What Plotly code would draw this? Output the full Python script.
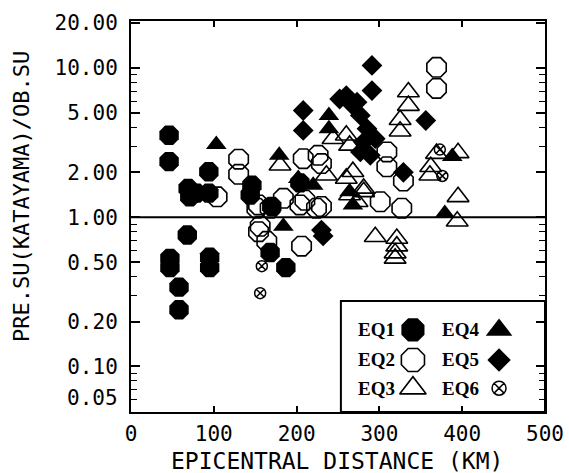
import plotly.graph_objects as go

# ---- data ----
eq1_x = [46, 46, 94, 69, 79, 71, 94, 68, 47, 47, 95, 95, 58, 58, 187, 168, 146, 144, 170, 204]
eq1_y = [3.54, 2.36, 2.02, 1.56, 1.45, 1.37, 1.45, 0.76, 0.53, 0.46, 0.54, 0.46, 0.34, 0.24, 0.46, 0.58, 1.64, 1.41, 1.18, 1.70]

eq2_x = [130, 130, 104, 152, 168, 154, 164, 206, 156, 154, 184, 210, 224, 204, 230, 208, 226, 230, 369, 369, 309, 309, 329, 301, 327]
eq2_y = [2.45, 1.94, 1.37, 1.15, 1.15, 0.80, 0.69, 0.64, 0.87, 1.21, 1.34, 1.30, 1.15, 1.21, 1.18, 2.47, 2.60, 2.29, 10.1, 7.3, 2.74, 2.18, 1.75, 1.27, 1.15]

eq3_x = [180, 244, 260, 264, 236, 260, 264, 273, 268, 281, 335, 335, 325, 325, 369, 362, 361, 395, 394, 295, 321, 321, 319, 319, 281, 395]
eq3_y = [2.23, 3.36, 3.54, 3.03, 1.91, 1.82, 1.41, 1.27, 2.02, 1.48, 6.9, 5.6, 4.5, 3.77, 2.67, 2.18, 1.91, 1.37, 0.94, 0.74, 0.72, 0.64, 0.575, 0.53, 1.56, 2.7]

eq4_x = [103, 179, 239, 239, 202, 220, 264, 268, 184, 379, 388]
eq4_y = [3.07, 2.6, 4.81, 3.92, 1.82, 1.64, 1.48, 1.21, 0.87, 1.06, 2.55]

eq5_x = [208, 208, 230, 232, 291, 291, 356, 329, 260, 268, 277, 285, 281, 277, 289, 273, 252, 295]
eq5_y = [5.19, 3.82, 0.82, 0.75, 10.4, 7.06, 4.45, 2.0, 6.54, 5.6, 4.81, 3.92, 3.2, 2.74, 2.6, 5.9, 6.2, 3.36]

eq6_x = [158, 156, 373, 376]
eq6_y = [0.47, 0.31, 2.84, 1.89]

y_tickvals = [20, 10, 5, 2, 1, 0.5, 0.2, 0.1, 0.05]
y_ticktext = ["20.00", "10.00", "5.00", "2.00", "1.00", "0.50", "0.20", "0.10", ""]
y_bottom_label = "0.05"
x_tickvals = [0, 100, 200, 300, 400, 500]

legend_names = ["EQ1", "EQ2", "EQ3", "EQ4", "EQ5", "EQ6"]

BLACK = "#000000"
series = [
    (eq1_x, eq1_y, "octagon", 21, 0),
    (eq2_x, eq2_y, "octagon-open", 21, 1.6),
    (eq3_x, eq3_y, "triangle-up-open", 19, 1.6),
    (eq4_x, eq4_y, "triangle-up", 18, 0),
    (eq5_x, eq5_y, "diamond", 16, 0),
    (eq6_x, eq6_y, "circle-x-open", 11, 1.5),
]

fig = go.Figure()
for (xs, ys, sym, sz, lw), name in zip(series, legend_names):
    fig.add_trace(go.Scatter(
        x=xs, y=ys, mode="markers", name=name, showlegend=False,
        marker=dict(symbol=sym, size=sz, color=BLACK, line=dict(color=BLACK, width=lw)),
    ))

# custom legend (two columns: label then marker)
leg_rows = [0.21, 0.133, 0.061]
leg_text_x = [0.593, 0.795]
leg_mark_x = [0.681, 0.889]
leg_sizes = [25, 25, 23, 23, 18, 14]
for i, ((xs, ys, sym, sz, lw), name) in enumerate(zip(series, legend_names)):
    col, row = divmod(i, 3)
    fig.add_trace(go.Scatter(
        x=[leg_mark_x[col]], y=[leg_rows[row]], mode="markers", showlegend=False,
        xaxis="x2", yaxis="y2",
        marker=dict(symbol=sym, size=leg_sizes[i], color=BLACK, line=dict(color=BLACK, width=lw)),
    ))
    fig.add_annotation(x=leg_text_x[col], y=leg_rows[row], xref="paper", yref="paper",
                       xanchor="center", yanchor="middle",
                       text="<b>%s</b>" % name, showarrow=False,
                       font=dict(family="Liberation Serif", size=19, color=BLACK))

mono = "DejaVu Sans Mono"
fig.update_layout(
    width=569, height=473,
    margin=dict(l=131, r=24, t=21, b=61, autoexpand=False),
    paper_bgcolor="white", plot_bgcolor="white",
    font=dict(family=mono, color=BLACK),
    xaxis=dict(range=[0, 500], tickvals=x_tickvals, ticks="inside", ticklen=6, tickwidth=1.5,
               tickcolor=BLACK, showline=True, linewidth=2, linecolor=BLACK, mirror="ticks",
               showgrid=False, zeroline=False, automargin=False, ticklabelstandoff=2,
               tickfont=dict(family=mono, size=21, color=BLACK)),
    yaxis=dict(type="log", range=[-1.305, 1.315], tickvals=y_tickvals, ticktext=y_ticktext,
               ticks="inside", ticklen=9, tickwidth=1.5, tickcolor=BLACK,
               minor=dict(ticks="inside", ticklen=6, tickwidth=1, tickcolor=BLACK, dtick="D1", showgrid=False),
               showline=True, linewidth=2, linecolor=BLACK, mirror="ticks",
               showgrid=False, zeroline=False, automargin=False, ticklabelstandoff=7,
               tickfont=dict(family=mono, size=21, color=BLACK)),
    xaxis2=dict(overlaying="x", range=[0, 1], visible=False),
    yaxis2=dict(overlaying="y", range=[0, 1], visible=False),
    shapes=[
        dict(type="line", xref="paper", yref="y", x0=0, x1=1, y0=1, y1=1,
             line=dict(color=BLACK, width=2)),
        dict(type="rect", xref="paper", yref="paper", x0=0.507, x1=1, y0=0, y1=0.284,
             line=dict(color=BLACK, width=2)),
    ],
)
fig.add_annotation(x=-0.027, y=0.036, xref="paper", yref="paper", showarrow=False,
                   xanchor="right", yanchor="middle",
                   text=y_bottom_label, font=dict(family=mono, size=21, color=BLACK))
fig.add_annotation(x=0.498, y=-0.125, xref="paper", yref="paper", showarrow=False,
                   xanchor="center", yanchor="middle",
                   text="EPICENTRAL DISTANCE (KM)", font=dict(family=mono, size=23, color=BLACK))
fig.add_annotation(x=-0.263, y=0.55, xref="paper", yref="paper", showarrow=False, textangle=-90,
                   xanchor="center", yanchor="middle",
                   text="PRE.SU(KATAYAMA)/OB.SU", font=dict(family=mono, size=22, color=BLACK))

fig.write_html("out.html", config={"displayModeBar": False},
               post_script="document.body.style.margin='0';document.body.style.overflow='hidden';")
